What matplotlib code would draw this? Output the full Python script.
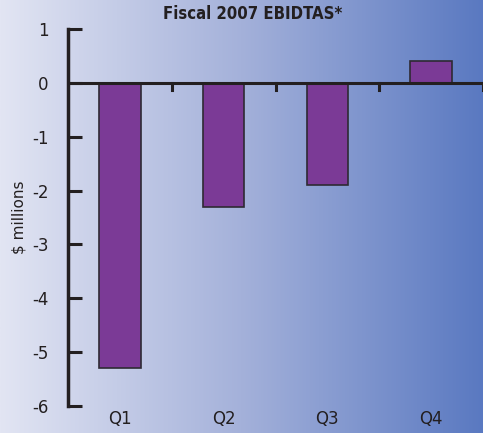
import numpy as np
import matplotlib.pyplot as plt
from matplotlib.colors import LinearSegmentedColormap
from matplotlib.transforms import blended_transform_factory

quarters = ["Q1", "Q2", "Q3", "Q4"]
ebidtas = [-5.3, -2.3, -1.9, 0.4]
y_ticks = [1, 0, -1, -2, -3, -4, -5, -6]

fig = plt.figure(figsize=(4.83, 4.33), dpi=100)

# background gradient across the whole figure
bg = fig.add_axes([0, 0, 1, 1], zorder=0)
grad = LinearSegmentedColormap.from_list("bg", ["#e2e5f3", "#a4b1da", "#5a79c1"])
bg.imshow(np.linspace(0, 1, 256).reshape(1, -1), aspect="auto", cmap=grad,
          extent=[0, 1, 0, 1])
bg.axis("off")

ax = fig.add_axes([68 / 483, 27 / 433, 1 - 68 / 483, 377 / 433], zorder=1)
ax.patch.set_alpha(0)

x = np.arange(len(quarters))
ax.bar(x, ebidtas, width=0.4, color="#7b3a96", edgecolor="#2e2a33",
       linewidth=1.2, zorder=2)

ax.set_xlim(-0.5, 3.5)
ax.set_ylim(-6, 1)
ax.axhline(0, color="#231f20", linewidth=2.2, zorder=3)

# small ticks hanging under the zero line between quarters
for b in [0.5, 1.5, 2.5, 3.5]:
    ax.plot([b, b], [0, -0.13], color="#231f20", linewidth=2.2, zorder=3,
            clip_on=False)

for s in ["top", "right", "bottom"]:
    ax.spines[s].set_visible(False)
ax.spines["left"].set_linewidth(2.5)
ax.spines["left"].set_color("#231f20")

ax.set_yticks(y_ticks)
ax.set_yticklabels([str(t) for t in y_ticks])
ax.tick_params(axis="y", direction="in", length=10, width=2.2,
               color="#231f20", labelsize=12, labelcolor="#231f20", pad=14)
ax.set_xticks([])

trans = blended_transform_factory(ax.transData, ax.transAxes)
for i, q in enumerate(quarters):
    ax.text(i, -0.035, q, transform=trans, ha="center", va="center",
            fontsize=12, color="#231f20")

ax.set_ylabel("$ millions", fontsize=11, color="#231f20")
ax.yaxis.set_label_coords(-0.1, 0.5)

fig.text(0.522, 0.968, "Fiscal 2007 EBIDTAS*", ha="center", va="center",
         fontsize=12, fontweight="bold", family="DejaVu Sans",
         stretch="condensed", color="#231f20")

fig.savefig("out.png", dpi=100)
